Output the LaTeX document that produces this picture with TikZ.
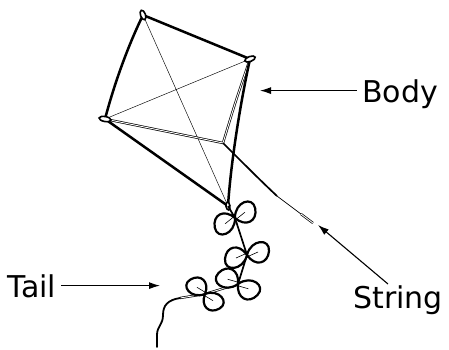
\documentclass[tikz,border=0pt]{standalone}
\usepackage{fontspec}
\setmainfont{DejaVu Sans}
\usetikzlibrary{arrows.meta}
\tikzset{
  frame/.style={line width=2.5pt,line cap=round,line join=round},
  spar/.style={line width=0.45pt},
  seam/.style={double,double distance=0.9pt,line width=0.7pt},
  eyelet/.style={line width=1.6pt,fill=white},
  lbl/.style={font=\fontsize{30}{36}\selectfont,inner xsep=5pt,inner ysep=1pt,text depth=0pt},
  ptr/.style={line width=1.1pt,-{Latex[length=11pt,width=7pt]}},
  bow/.pic={
    \draw[line width=2.2pt,line join=round,fill=white]
      (0,0) .. controls (4,-16) and (23,-17) .. (22,-4)
            .. controls (21,9) and (8,12) .. (0,0)
            .. controls (-4,16) and (-23,17) .. (-22,4)
            .. controls (-21,-9) and (-8,-12) .. (0,0);
    \draw[line width=0.6pt]
      (-11,3) .. controls (-6,1) .. (-2,-1)
      (11,-3) .. controls (6,-1) .. (2,1);
  }
}
\begin{document}
\begin{tikzpicture}[x=1pt,y=-1pt]
  \useasboundingbox[fill=white] (0,0) rectangle (449,349);

  % kite body
  \coordinate (T) at (143,15);
  \coordinate (R) at (250,59);
  \coordinate (L) at (105,119);
  \coordinate (B) at (228,206);
  \coordinate (F) at (223,143);
  \draw[spar] (T) -- (B) (R) -- (L);
  \draw[seam] (L) -- (F) (R) .. controls (236,100) .. (F);
  \draw[frame]
    (T) -- (R)
    (R) .. controls (241,100) and (231,160) .. (B)
    (T) .. controls (127,48) and (114,85) .. (L)
    (L) -- (B);
  \draw[eyelet,rotate around={-70:(T)}] (T) ellipse (5pt and 2.5pt);
  \draw[eyelet,rotate around={20:(R)}] (R) ellipse (5.5pt and 2.5pt);
  \draw[eyelet,rotate around={-10:(L)}] (L) ellipse (6pt and 2.5pt);
  \draw[eyelet,rotate around={-80:(B)}] (B) ellipse (4pt and 2pt);

  % string
  \coordinate (s1) at (277,196);
  \coordinate (s2) at (301,214);
  \coordinate (s3) at (313,223);
  \draw[line width=1.7pt] (F) .. controls (245,165) and (262,182) .. (s1);
  \draw[line width=0.7pt] (s1) -- (s2);
  \draw[seam] (s2) -- (s3);

  % tail
  \coordinate (bow1) at (235,218);
  \coordinate (bow2) at (247,255);
  \coordinate (bow3) at (238,284);
  \coordinate (bow4) at (205,294);
  \coordinate (t0) at (180,298);
  \coordinate (t1) at (157,347);
  \draw[line width=1.7pt] (B) -- (bow1) -- (bow2) -- (bow3);
  \draw[seam] (bow3) -- (bow4) -- (t0);
  \draw[line width=1.8pt,line cap=round]
    (t0) .. controls (168,300) and (163,305) .. (163,315)
         .. controls (163,325) and (157,326) .. (157,335) -- (t1);
  \pic[rotate=15] at (bow1) {bow};
  \pic at (bow2) {bow};
  \pic[rotate=-40] at (bow3) {bow};
  \pic[rotate=-55,scale=0.92] at (bow4) {bow};

  % labels
  \node[lbl,anchor=base] (body) at (400,102) {Body};
  \node[lbl,anchor=base] (string) at (398,308) {String};
  \node[lbl,anchor=base] (tail) at (32,297) {Tail};
  \coordinate (bodytip) at (260,92);
  \coordinate (stringtip) at (318,225);
  \coordinate (tailtip) at (160,288);
  \draw[ptr] (body.west) -- (body.west -| bodytip);
  \draw[ptr] ([xshift=-10pt]string.north) -- (stringtip);
  \draw[ptr] (tail.east) -- (tail.east -| tailtip);
\end{tikzpicture}
\end{document}
